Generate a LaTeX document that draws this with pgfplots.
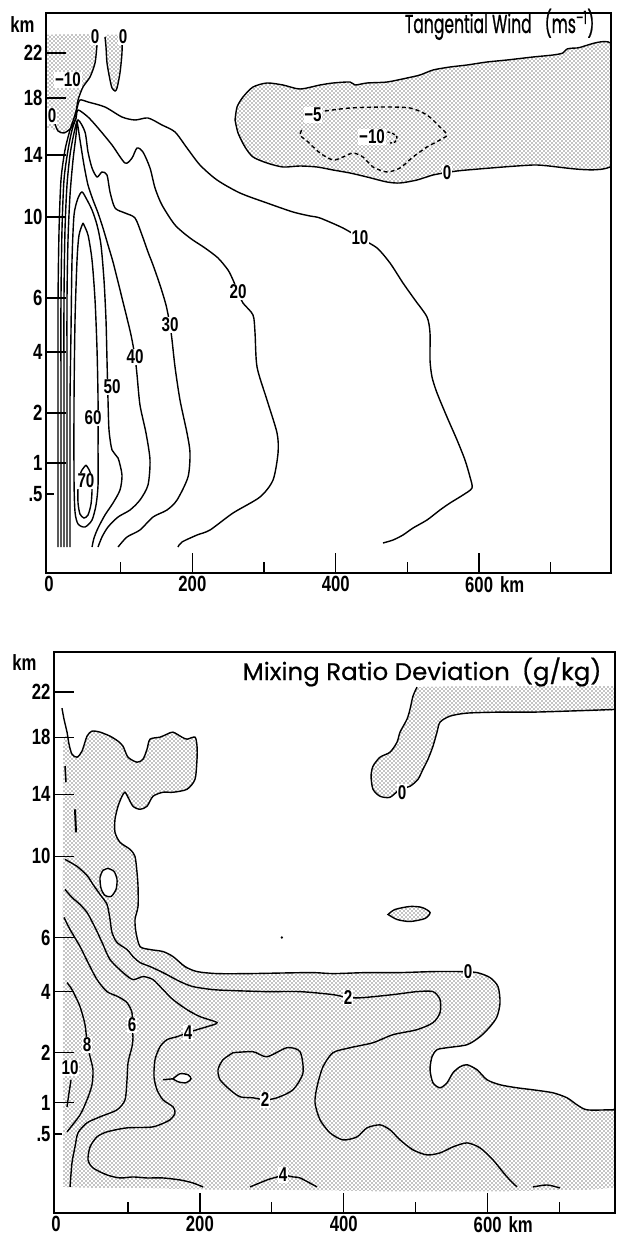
\documentclass[border=0pt]{standalone}
\usepackage{pgfplots}
\pgfplotsset{compat=1.18}
\usetikzlibrary{patterns}
\usepackage{fontspec}
\setmainfont{Liberation Sans}[FakeStretch=0.76]
\newfontfamily\titlefontA{Poppins}[FakeStretch=0.6, FakeBold=0.6]
\newfontfamily\titlefontB{Poppins}[FakeStretch=1.02, FakeBold=0.6]
\newcommand\lblfont{\bfseries\fontsize{20}{20}\selectfont}
\newcommand\tickfont{\bfseries\fontsize{22}{22}\selectfont}
\pgfdeclarepatternformonly{stipple}{\pgfqpoint{-1pt}{-1pt}}{\pgfqpoint{3pt}{3pt}}{\pgfqpoint{4pt}{4pt}}{%
  \pgfpathcircle{\pgfqpoint{0pt}{0pt}}{.72pt}\pgfpathcircle{\pgfqpoint{2pt}{2pt}}{.72pt}\pgfusepath{fill}}
\tikzset{lab/.style={font=\lblfont, fill=white, inner sep=0.8pt}}
\pgfplotsset{
  panel/.style={
    scale only axis, axis on top,
    ymin=0, ymax=560,
    tick align=inside, tick pos=left,
    major tick length=20pt, minor tick length=11pt,
    axis line style={line width=1.5pt},
    every tick/.style={black, line width=1.3pt},
    ytick={110,160,221,275,356,418,475,520},
    yticklabels={1,2,4,6,10,14,18,22},
    extra y ticks={79}, extra y tick labels={.5},
    extra y tick style={major tick length=8pt},
    xtick={200,400,600}, xticklabels={200,400,{600\rlap{\hspace{7pt}km}}},
    minor xtick={100,300,500,700},
    extra x ticks={0}, extra x tick labels={0},
    extra x tick style={major tick length=0pt},
    tick label style={font=\tickfont},
  },
  cl/.style={black, line width=1.4pt, smooth, tension=0.45, no markers},
  sh/.style={draw=none, pattern=stipple, smooth, tension=0.45, no markers},
}
\begin{document}
\begin{tikzpicture}
\useasboundingbox (0,0) rectangle (617pt,-1239pt);
% ================= TOP PANEL =================
\begin{axis}[panel, at={(46pt,-573pt)}, anchor=south west,
  width=565pt, height=560pt, xmin=-4.2, xmax=784]
% shaded (negative) regions
\addplot[sh] coordinates {(-6,538) (68.4,538) (67.0,528) (64.2,510) (57.2,496) (47.4,486) (40.5,473) (37.7,460) (36.3,456) (33,447) (26,442) (18,440) (10,443) (-6,446)} -- cycle;
\addplot[sh] coordinates {(78.1,538) (79.5,526) (80.9,510) (85.1,493) (87.9,485) (92.1,482) (94.9,485) (99.0,500) (101.8,520) (101.8,538)} -- cycle;
\addplot[sh, draw=black, line width=1.4pt] coordinates {(259.5,453) (262.3,466) (270.6,476) (284.6,486) (304.1,490) (326.4,488) (350.1,484) (378.0,488) (396.2,490) (419.9,491) (426.9,488) (443.6,490) (471.5,491) (499.4,495) (517.5,498) (535.7,503) (559.4,506) (583.1,508) (611.0,511) (638.9,513) (675.2,516) (703.1,518) (717.0,520) (722.6,524) (736.6,525) (790,525) (790,410) (675.2,408) (583.1,403) (559.4,401) (535.7,398) (513.4,393) (489.6,390) (471.5,391) (443.6,396) (419.9,400) (396.2,403) (373.9,406) (350.1,407) (326.4,406) (304.1,410) (284.6,416) (273.4,426) (263.7,440) (259.5,453)} -- cycle;
% zero contours upper left
\addplot[cl] coordinates {(68.4,536) (67.0,528) (64.2,510) (57.2,496) (47.4,486) (40.5,473) (37.7,460) (36.3,456)};
\addplot[cl] coordinates {(37.7,455) (30.7,445) (20.9,440) (12.6,442) (8.4,449)};
\addplot[cl] coordinates {(78.1,536) (79.5,526) (80.9,510) (85.1,493) (87.9,485) (92.1,482) (94.9,485) (99.0,500) (101.8,520) (101.8,536)};
% negative dashed contours
\addplot[cl, dash pattern=on 4pt off 3pt] coordinates {(385.0,462) (419.9,465) (465.9,466) (503.6,465) (527.3,458) (545.4,446) (555.2,438) (545.4,433) (527.3,426) (507.8,416) (489.6,405) (471.5,401) (452.0,406) (438.0,416) (424.1,420) (410.1,416) (396.2,413) (378.0,420) (359.9,432) (350.1,438) (354.3,445)};
\addplot[cl, dash pattern=on 3pt off 2pt] coordinates {(472,441) (478.5,440) (485.5,436) (482.7,431) (475.7,430)};
% positive contours
\addplot[cl] coordinates {(12.6,26) (12.6,173) (12.6,273) (14.0,343) (16.7,393) (22.3,423) (29.3,443) (34.9,455) (39.1,465) (43.2,473) (54.4,471) (78.1,466) (101.8,456) (120.0,453) (138.1,455) (157.6,448) (175.8,441) (192.5,425) (210.6,408) (234.4,393) (266.4,380) (304.1,370) (340.4,361) (364.1,357) (378.0,355) (410.1,345) (433.8,335) (457.6,325) (475.7,310) (493.8,290) (510.6,273) (527.3,256) (531.5,240) (531.5,213) (534.3,196) (541.3,180) (555.2,156) (569.2,133) (580.3,113) (587.3,96) (590.1,85) (577.5,78) (559.4,70) (545.4,63) (527.3,53) (507.8,45) (493.8,38) (479.9,33) (465.9,30)};
\addplot[cl] coordinates {(16.7,26) (16.7,173) (16.7,273) (18.1,343) (20.9,393) (26.5,423) (32.1,443) (37.7,455) (40.5,463) (54.4,456) (68.4,445) (87.9,428) (106.0,410) (115.8,415) (122.8,425) (131.1,421) (140.9,405) (147.9,385) (157.6,368) (175.8,348) (196.7,335) (217.6,325) (235.8,315) (249.7,303) (256.7,293) (263.7,281) (270.6,270) (284.6,258) (287.4,240) (290.2,206) (304.1,173) (318.1,140) (319.5,120) (312.5,93) (294.3,76) (256.7,60) (224.6,43) (206.5,38) (185.5,31) (179.9,26)};
\addplot[cl] coordinates {(20.9,26) (20.9,173) (20.9,273) (22.3,343) (25.1,388) (29.3,418) (34.9,440) (40.5,453) (50.2,441) (54.4,421) (60.0,405) (67.0,396) (73.9,401) (80.9,398) (85.1,381) (92.1,365) (106.0,360) (120.0,355) (129.7,338) (138.1,321) (145.1,308) (154.8,288) (163.2,268) (168.8,248) (171.6,233) (175.8,206) (182.7,173) (192.5,140) (196.7,120) (193.9,96) (178.6,73) (164.6,63) (145.1,56) (126.9,43) (108.8,36) (96.3,26)};
\addplot[cl] coordinates {(25.1,26) (25.1,173) (25.1,273) (26.5,333) (29.3,378) (33.5,413) (37.7,438) (39.1,451) (43.2,433) (48.8,408) (54.4,388) (61.4,373) (68.4,360) (75.3,345) (82.3,328) (89.3,311) (96.3,291) (106.0,263) (114.4,238) (120.0,216) (122.8,198) (126.9,168) (135.3,140) (140.9,113) (138.1,88) (126.9,73) (113.0,63) (96.3,56) (82.3,46) (73.9,36) (68.4,26)};
\addplot[cl] coordinates {(29.3,26) (29.3,103) (29.3,173) (30.7,243) (32.1,313) (34.9,358) (40.5,375) (46.0,381) (51.6,375) (60.0,363) (67.0,348) (72.5,328) (76.7,293) (79.5,253) (80.9,213) (82.3,173) (83.7,143) (87.9,123) (96.3,115) (101.8,98) (99.0,83) (89.3,70) (78.1,58) (68.4,45) (62.8,35) (60.0,26)};
\addplot[cl] coordinates {(47.4,350) (54.4,338) (60.0,313) (64.2,273) (67.0,223) (68.4,173) (68.4,123) (68.4,88) (65.6,68) (60.0,53) (50.2,46) (40.5,49) (36.3,61) (34.9,93) (34.9,173) (36.3,253) (39.1,313) (41.9,338) (47.4,350)};
\addplot[cl] coordinates {(51.6,108) (57.2,101) (60.0,85) (58.6,69) (54.4,58) (48.8,55) (43.2,59) (40.5,70) (40.5,85) (44.6,101) (51.6,108)};
% labels
\node[lab] at (axis cs:64.2,536) {0};
\node[lab] at (axis cs:103.2,536) {0};
\node[lab] at (axis cs:26.5,493) {−10};
\node[lab] at (axis cs:4.2,457) {0};
\node[lab] at (axis cs:368.3,458) {−5};
\node[lab] at (axis cs:450.6,436) {−10};
\node[lab] at (axis cs:555.2,400) {0};
\node[lab] at (axis cs:433.8,335) {10};
\node[lab] at (axis cs:263.7,281) {20};
\node[lab] at (axis cs:168.8,248) {30};
\node[lab] at (axis cs:120.0,216) {40};
\node[lab] at (axis cs:87.9,186) {50};
\node[lab] at (axis cs:61.4,155) {60};
\node[lab] at (axis cs:51.6,92) {70};
\end{axis}
\node[anchor=east, font=\tickfont] at (38pt,-25pt) {km};
\node[anchor=base east, font=\titlefontA\fontsize{26}{26}\selectfont] at (598pt,-33pt) {Tangential Wind\enspace(ms\textsuperscript{–1})};
% ================= BOTTOM PANEL =================
\begin{axis}[panel, at={(54pt,-1213pt)}, anchor=south west,
  width=561pt, height=561pt, xmin=-2.8, xmax=777]
\addplot[sh] coordinates {(9.7,26) (9.7,453) (22.2,458) (29.2,455) (36.1,461) (43.1,476) (50.0,481) (61.2,480) (75.1,476) (86.2,471) (93.1,466) (100.1,455) (112.6,450) (120.9,453) (126.5,463) (130.7,473) (144.6,475) (154.3,478) (162.6,480) (175.1,475) (182.1,473) (193.2,475) (196.0,466) (196.0,453) (193.2,433) (182.1,423) (162.6,420) (148.7,420) (134.8,416) (126.5,406) (116.8,403) (107.0,406) (100.1,415) (95.9,420) (91.7,416) (86.2,406) (82.0,393) (82.0,380) (89.0,370) (102.9,363) (109.8,356) (112.6,340) (114.0,326) (114.0,306) (109.8,293) (111.2,280) (116.8,266) (130.7,263) (148.7,261) (162.6,256) (179.3,246) (196.0,241) (223.8,239) (269.7,239) (353.1,240) (385.0,239) (432.3,240) (478.2,240) (524.0,241) (561.6,241) (585.2,240) (603.3,235) (614.4,226) (617.2,210) (613.0,196) (603.3,186) (589.4,176) (571.3,168) (543.5,165) (529.6,163) (522.6,156) (519.9,143) (524.0,130) (533.8,125) (543.5,130) (551.8,140) (561.6,146) (571.3,148) (585.2,143) (599.1,133) (617.2,128) (640.8,125) (663.0,123) (690.8,120) (710.3,115) (724.2,108) (738.1,103) (770.1,103) (790,103) (790,26) (9.7,26)} -- cycle;
\addplot[sh] coordinates {(501.8,525) (790,525) (790,503) (710.3,501) (663.0,500) (617.2,500) (571.3,499) (547.7,496) (533.8,490) (529.6,480) (524.0,466) (517.1,453) (510.1,443) (503.2,433) (492.1,426) (478.2,423) (464.3,415) (450.4,416) (440.6,423) (437.9,436) (440.6,446) (450.4,455) (464.3,460) (474.0,470) (478.2,480) (487.9,493) (492.1,503) (496.2,516) (501.8,525)} -- cycle;
\addplot[sh, draw=black, line width=1.4pt] coordinates {(461.5,298) (471.2,303) (492.1,306) (508.7,305) (519.9,300) (512.9,294) (492.1,291) (474.0,293) (461.5,298)} -- cycle;
% zero contours
\addplot[cl] coordinates {(8.3,504) (11.1,493) (15.3,480) (18.1,468) (22.2,458) (29.2,455) (36.1,461) (43.1,476) (50.0,481) (61.2,480) (75.1,476) (86.2,471) (93.1,466) (100.1,455) (112.6,450) (120.9,453) (126.5,463) (130.7,473) (144.6,475) (154.3,478) (162.6,480) (175.1,475) (182.1,473) (193.2,475) (196.0,466) (196.0,453) (193.2,433) (182.1,423) (162.6,420) (148.7,420) (134.8,416) (126.5,406) (116.8,403) (107.0,406) (100.1,415) (95.9,420) (91.7,416) (86.2,406) (82.0,393) (82.0,380) (89.0,370) (102.9,363) (109.8,356) (112.6,340) (114.0,326) (114.0,306) (109.8,293) (111.2,280) (116.8,266) (130.7,263) (148.7,261) (162.6,256) (179.3,246) (196.0,241) (223.8,239) (269.7,239) (353.1,240) (385.0,239) (432.3,240) (478.2,240) (524.0,241) (561.6,241) (585.2,240) (603.3,235) (614.4,226) (617.2,210) (613.0,196) (603.3,186) (589.4,176) (571.3,168) (543.5,165) (529.6,163) (522.6,156) (519.9,143) (524.0,130) (533.8,125) (543.5,130) (551.8,140) (561.6,146) (571.3,148) (585.2,143) (599.1,133) (617.2,128) (640.8,125) (663.0,123) (690.8,120) (710.3,115) (724.2,108) (738.1,103) (770.1,103) (790,103)};
\addplot[cl] coordinates {(790,503) (710.3,501) (663.0,500) (617.2,500) (571.3,499) (547.7,496) (533.8,490) (529.6,480) (524.0,466) (517.1,453) (510.1,443) (503.2,433) (492.1,426) (478.2,423) (464.3,415) (450.4,416) (440.6,423) (437.9,436) (440.6,446) (450.4,455) (464.3,460) (474.0,470) (478.2,480) (487.9,493) (492.1,503) (496.2,516) (501.8,525)};
% white holes
\addplot[cl, fill=white] coordinates {(72.3,344) (80.6,341) (84.8,333) (83.4,323) (76.5,316) (68.1,317) (62.6,324) (61.2,335) (65.3,342) (72.3,344)} -- cycle;
\addplot[cl] coordinates {(148.7,133) (162.6,134)};
\addplot[cl, fill=white] coordinates {(162.6,134) (172.4,139) (183.5,138) (187.7,134) (180.7,130) (169.6,131) (162.6,134)} -- cycle;
\addplot[black, line width=2pt, no markers] coordinates {(26.4,403) (27.8,380)};
\addplot[black, line width=1.5pt, no markers] coordinates {(12.5,446) (13.9,430)};
\addplot[only marks, mark=*, mark size=1pt, black] coordinates {(314,275)};
% positive contours
\addplot[cl] coordinates {(12.5,353) (29.2,346) (43.1,337) (51.4,328) (61.2,318) (70.9,308) (75.1,293) (77.8,280) (84.8,270) (98.7,263) (107.0,256) (116.8,250) (130.7,246) (148.7,240) (172.4,231) (190.4,226) (218.2,223) (246.0,222) (293.3,221) (339.2,221) (385.0,218) (405.9,215) (426.7,215) (468.4,218) (501.8,221) (524.0,221) (533.8,213) (533.8,200) (524.0,190) (501.8,183) (468.4,178) (440.6,170) (408.7,165) (385.0,160) (371.1,146) (362.8,126) (360.0,110) (367.0,93) (380.9,80) (398.9,73) (418.4,76) (432.3,85) (450.4,88) (464.3,83) (478.2,73) (496.2,63) (515.7,58) (533.8,60) (551.8,66) (571.3,70) (589.4,65) (607.4,53) (626.9,36) (640.8,26)};
\addplot[cl] coordinates {(12.5,323) (22.2,315) (33.4,308) (43.1,300) (50.0,291) (57.0,281) (65.3,268) (75.1,253) (93.1,240) (107.0,233) (120.9,236) (134.8,233) (148.7,223) (162.6,213) (182.1,203) (200.2,196) (223.8,190) (209.9,186) (196.0,183) (183.5,180) (168.2,176) (154.3,173) (144.6,166) (137.6,153) (136.2,136) (140.4,123) (148.7,113) (162.6,106) (165.4,100) (158.5,93) (134.8,86) (98.7,85) (70.9,81) (57.0,76) (47.3,66) (44.5,53) (51.4,45) (70.9,38) (89.0,35) (107.0,36) (126.5,35) (148.7,35) (172.4,33) (190.4,30) (204.3,26)};
\addplot[cl] coordinates {(11.1,295) (19.5,283) (33.4,266) (44.5,250) (57.0,233) (70.9,221) (86.2,216) (98.7,210) (105.6,200) (105.6,188) (107.0,175) (105.6,166) (100.1,150) (98.7,133) (95.9,113) (84.8,103) (61.2,96) (43.1,90) (30.6,80) (26.4,66) (22.2,50) (19.5,26)};
\addplot[cl] coordinates {(15.3,230) (22.2,223) (33.4,206) (40.3,188) (43.1,171) (47.3,156) (51.4,143) (50.0,128) (43.1,113) (33.4,98) (15.3,81)};
\addplot[cl] coordinates {(20.9,133) (18.1,120) (15.3,106)};
\addplot[cl] coordinates {(246.0,160) (273.8,161) (293.3,156) (321.1,165) (339.2,161) (343.3,140) (329.4,123) (307.2,115) (290.5,113) (273.8,115) (255.8,116) (241.9,123) (228.0,133) (225.2,143) (232.1,153) (246.0,160)};
\addplot[cl] coordinates {(269.7,26) (293.3,33) (307.2,36) (315.5,38) (329.4,36) (339.2,35) (362.8,26)};
\addplot[cl] coordinates {(663.0,26) (682.5,28) (700.6,25)};
% labels
\node[lab] at (axis cs:480.9,420) {0};
\node[lab] at (axis cs:572.7,241) {0};
\node[lab] at (axis cs:405.9,215) {2};
\node[lab] at (axis cs:183.5,180) {4};
\node[lab] at (axis cs:105.6,188) {6};
\node[lab] at (axis cs:43.1,168) {8};
\node[lab] at (axis cs:19.5,145) {10};
\node[lab] at (axis cs:290.5,113) {2};
\node[lab] at (axis cs:315.5,38) {4};
\end{axis}
\node[anchor=east, font=\tickfont] at (40pt,-663pt) {km};
\node[anchor=base east, font=\titlefontB\fontsize{24}{24}\selectfont] at (605pt,-680pt) {Mixing Ratio Deviation\enspace(g/kg)};
\end{tikzpicture}
\end{document}
